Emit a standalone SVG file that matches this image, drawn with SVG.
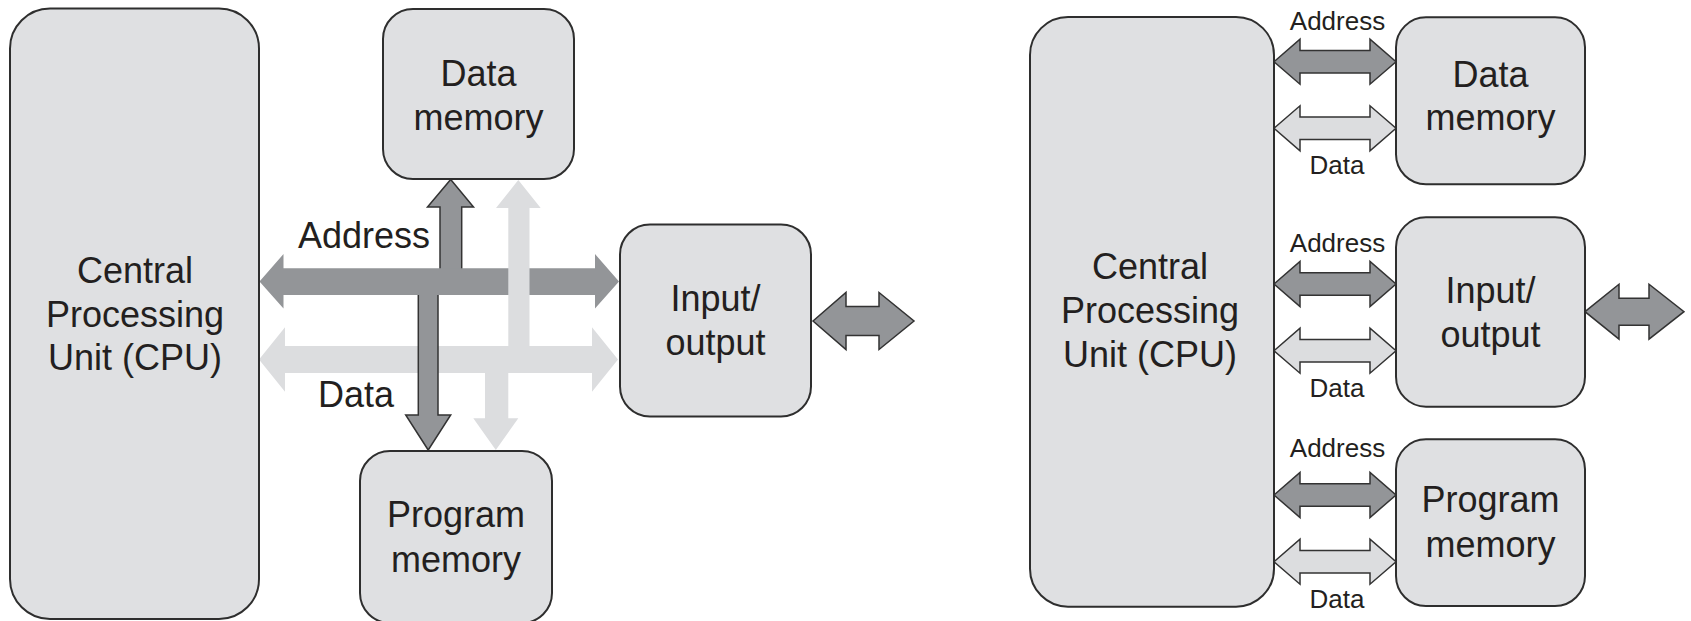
<svg xmlns="http://www.w3.org/2000/svg" xmlns:xlink="http://www.w3.org/1999/xlink" width="1691" height="621" viewBox="0 0 1691 621">
  <style>
    .box { fill: #dfe0e2; stroke: #2e2e2e; stroke-width: 2; }
    .lbl { font-family: "Liberation Sans", Arial, sans-serif; fill: #231f20; text-anchor: middle; }
    .big { font-size: 36px; }
    .small { font-size: 26px; }
    .addr { fill: #939598; }
    .data { fill: #dcdddf; }
    .edge { stroke: #333; stroke-width: 1.5; stroke-linejoin: miter; }
  </style>
  <defs>
    <!-- double-headed bus arrow used between CPU and each block (right layout) -->
    <path id="bus" d="M0 0 L26 -22.5 L26 -11.3 L96 -11.3 L96 -22.5 L122 0 L96 22.5 L96 11.3 L26 11.3 L26 22.5 Z"/>
  </defs>

  <rect width="1691" height="621" fill="#ffffff"/>

  <!-- ===== Left layout: shared address/data buses ===== -->
  <g id="left-connectors">
    <!-- data bus (horizontal) -->
    <path class="data" d="M259 359.5 L285 327.3 L285 346 L592 346 L592 327.3 L618 359.5 L592 391.7 L592 373 L285 373 L285 391.7 Z"/>
    <!-- data bus down to program memory -->
    <path class="data" d="M485 370 L508.3 370 L508.3 418.3 L518.3 418.3 L495.8 450 L473.3 418.3 L485 418.3 Z"/>
    <!-- address bus down to program memory -->
    <path class="addr edge" d="M418.3 288 L438 288 L438 415 L450.7 415 L428.2 450 L405.7 415 L418.3 415 Z"/>
    <!-- address bus up to data memory -->
    <path class="addr edge" d="M450.7 179.5 L473.5 207 L461.7 207 L461.7 275 L440 275 L440 207 L427.5 207 Z"/>
    <!-- address bus (horizontal) -->
    <path class="addr" d="M259.5 281.5 L283.5 254 L283.5 268.3 L595 268.3 L595 254 L619 281.5 L595 308.5 L595 295 L283.5 295 L283.5 308.5 Z"/>
    <!-- data bus up to data memory -->
    <path class="data" d="M518.3 180 L540.7 208 L529.5 208 L529.5 350 L508.3 350 L508.3 208 L496 208 Z"/>
    <!-- external I/O link -->
    <path class="addr edge" d="M813 321 L846 292.5 L846 306.5 L879 306.5 L879 292.5 L914 321 L879 349.5 L879 335.5 L846 335.5 L846 349.5 Z"/>
    <text class="lbl big" x="364" y="248.3">Address</text>
    <text class="lbl big" x="356" y="406.7">Data</text>
  </g>

  <g id="left-cpu">
    <rect class="box" x="10" y="8.5" width="249" height="610.5" rx="40" ry="40"/>
    <text class="lbl big" x="135" y="283.3">Central</text>
    <text class="lbl big" x="135" y="327.3">Processing</text>
    <text class="lbl big" x="135" y="370">Unit (CPU)</text>
  </g>

  <g id="left-data-memory">
    <rect class="box" x="383" y="9" width="191" height="170" rx="30" ry="30"/>
    <text class="lbl big" x="478.5" y="86">Data</text>
    <text class="lbl big" x="478.5" y="130">memory</text>
  </g>

  <g id="left-io">
    <rect class="box" x="620" y="224.5" width="191" height="192" rx="30" ry="30"/>
    <text class="lbl big" x="715.5" y="311">Input/</text>
    <text class="lbl big" x="715.5" y="355">output</text>
  </g>

  <g id="left-program-memory">
    <rect class="box" x="360" y="451" width="192" height="172" rx="30" ry="30"/>
    <text class="lbl big" x="456" y="526.7">Program</text>
    <text class="lbl big" x="456" y="571.7">memory</text>
  </g>

  <!-- ===== Right layout: separate buses per block ===== -->
  <g id="right-connectors">
    <use xlink:href="#bus" class="addr edge" x="1274" y="61.7"/>
    <use xlink:href="#bus" class="data edge" x="1274" y="128.3"/>
    <use xlink:href="#bus" class="addr edge" x="1274" y="284"/>
    <use xlink:href="#bus" class="data edge" x="1274" y="350.7"/>
    <use xlink:href="#bus" class="addr edge" x="1274" y="495"/>
    <use xlink:href="#bus" class="data edge" x="1274" y="561.7"/>
    <!-- external I/O link -->
    <path class="addr edge" d="M1585 311.7 L1619 284.2 L1619 298.2 L1649 298.2 L1649 284.2 L1684 311.7 L1649 339.2 L1649 325.2 L1619 325.2 L1619 339.2 Z"/>
    <text class="lbl small" x="1337.5" y="30">Address</text>
    <text class="lbl small" x="1337" y="174">Data</text>
    <text class="lbl small" x="1337.5" y="251.7">Address</text>
    <text class="lbl small" x="1337" y="397">Data</text>
    <text class="lbl small" x="1337.5" y="456.7">Address</text>
    <text class="lbl small" x="1337" y="608">Data</text>
  </g>

  <g id="right-cpu">
    <rect class="box" x="1030" y="17" width="244" height="589.7" rx="38" ry="38"/>
    <text class="lbl big" x="1150" y="279.3">Central</text>
    <text class="lbl big" x="1150" y="323.3">Processing</text>
    <text class="lbl big" x="1150" y="366.7">Unit (CPU)</text>
  </g>

  <g id="right-data-memory">
    <rect class="box" x="1396" y="17.3" width="189" height="167" rx="30" ry="30"/>
    <text class="lbl big" x="1490.5" y="86.7">Data</text>
    <text class="lbl big" x="1490.5" y="130">memory</text>
  </g>

  <g id="right-io">
    <rect class="box" x="1396" y="217.3" width="189" height="189.4" rx="30" ry="30"/>
    <text class="lbl big" x="1490.5" y="303.3">Input/</text>
    <text class="lbl big" x="1490.5" y="346.7">output</text>
  </g>

  <g id="right-program-memory">
    <rect class="box" x="1396" y="439.3" width="189" height="166.7" rx="30" ry="30"/>
    <text class="lbl big" x="1490.5" y="511.7">Program</text>
    <text class="lbl big" x="1490.5" y="556.7">memory</text>
  </g>
</svg>
